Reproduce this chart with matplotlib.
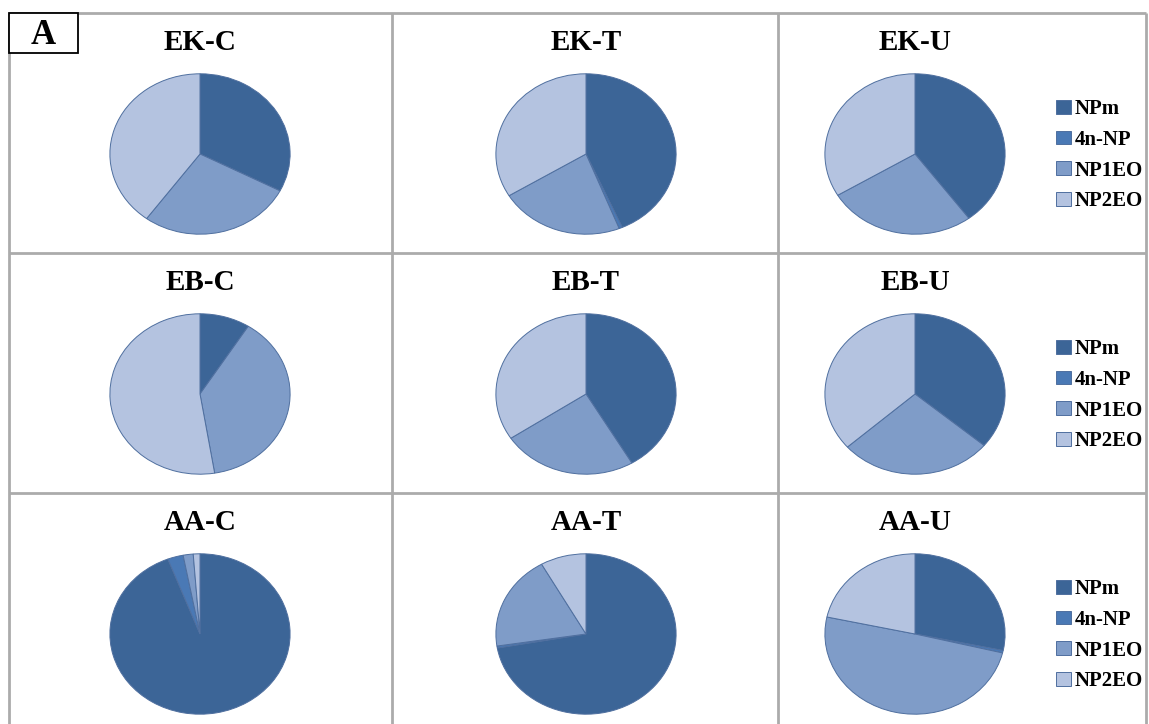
import matplotlib
matplotlib.use("Agg")
import matplotlib.pyplot as plt
from matplotlib.patches import Rectangle

# ---------------- data ----------------
components = ["NPm", "4n-NP", "NP1EO", "NP2EO"]
panel_titles = ["EK-C", "EK-T", "EK-U",
                "EB-C", "EB-T", "EB-U",
                "AA-C", "AA-T", "AA-U"]
ek_c = [32.6, 0.0, 27.5, 39.9]
ek_t = [43.4, 0.6, 22.3, 33.7]
ek_u = [39.8, 0.0, 26.6, 33.6]
eb_c = [9.0, 0.0, 38.4, 52.6]
eb_t = [41.5, 0.0, 24.2, 34.3]
eb_u = [36.1, 0.0, 27.4, 36.5]
aa_c = [94.2, 2.8, 1.8, 1.2]
aa_t = [72.2, 0.4, 19.2, 8.2]
aa_u = [28.3, 0.5, 49.6, 21.6]
panel_values = [ek_c, ek_t, ek_u, eb_c, eb_t, eb_u, aa_c, aa_t, aa_u]
colors = ["#3C6597", "#4A79B5", "#7F9CC8", "#B4C3E0"]

# ---------------- layout ----------------
W, H = 1149, 724
fig = plt.figure(figsize=(W / 100, H / 100), dpi=100)
fig.patch.set_facecolor("white")
serif = ["Liberation Serif", "DejaVu Serif"]

# overlay for panel borders
ov = fig.add_axes([0, 0, 1, 1])
ov.set_xlim(0, W)
ov.set_ylim(H, 0)
ov.axis("off")
grid_col = "#ABABAB"
for x in [9, 391.5, 778, 1146]:
    ov.plot([x, x], [13, H + 5], color=grid_col, lw=2.0, solid_capstyle="butt")
for y in [13, 253, 493]:
    ov.plot([9, 1146], [y, y], color=grid_col, lw=2.0, solid_capstyle="butt")
ov.add_patch(Rectangle((9, 13), 69, 40, facecolor="white", edgecolor="black", lw=1.3, zorder=5))
ov.text(43, 35, "A", ha="center", va="center", fontsize=25, fontweight="bold",
        family=serif, zorder=6)

centers_x = [200, 586, 915]
centers_y = [154, 394, 634]
rx, ry = 91, 81
title_dy = 111

for i, (title, vals) in enumerate(zip(panel_titles, panel_values)):
    r, c = divmod(i, 3)
    cx, cy = centers_x[c], centers_y[r]
    ax = fig.add_axes([(cx - rx) / W, 1 - (cy + ry) / H, 2 * rx / W, 2 * ry / H])
    wedges, _ = ax.pie(vals, colors=colors, startangle=90, counterclock=False,
                       wedgeprops=dict(edgecolor="#4F6F9F", linewidth=0.7))
    ax.set_aspect("auto")
    ax.set_xlim(-1.01, 1.01)
    ax.set_ylim(-1.01, 1.01)
    ax.axis("off")
    ov.text(cx, cy - title_dy, title, ha="center", va="center", fontsize=21,
            fontweight="bold", family=serif)
    if c == 2:
        leg_top = cy - 55
        fig.legend(wedges, components, loc="upper left",
                   bbox_to_anchor=(1056 / W, 1 - leg_top / H),
                   frameon=False, prop=dict(family=serif, weight="bold", size=15),
                   handlelength=0.7, handleheight=0.65, handletextpad=0.2,
                   labelspacing=0.52, borderpad=0, borderaxespad=0)

fig.savefig("out.png", dpi=100, facecolor="white")
